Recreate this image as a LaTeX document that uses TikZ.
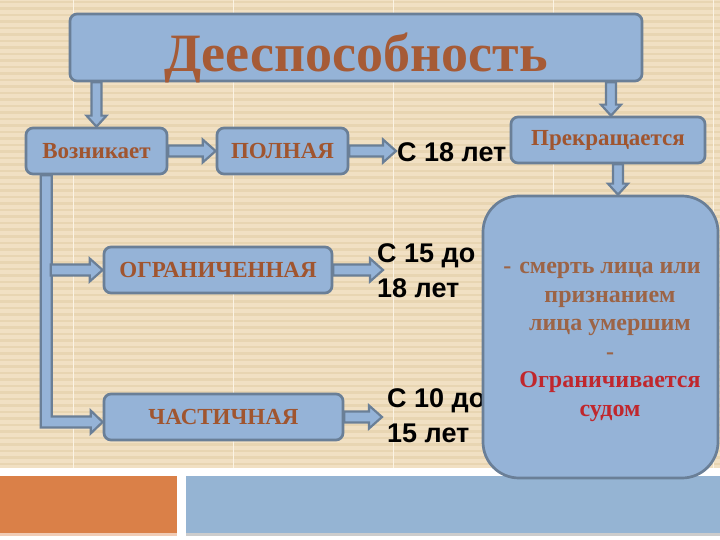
\documentclass[tikz,border=0pt]{standalone}
\usepackage{fontspec}
\setmainfont{Liberation Serif}
\newfontfamily\sansf{Liberation Sans}
\usetikzlibrary{calc}
\definecolor{bgbeige}{HTML}{F1E0C3}
\definecolor{stripe}{HTML}{E8D5B2}
\definecolor{vline}{HTML}{FBF3E4}
\definecolor{boxfill}{HTML}{95B3D7}
\definecolor{boxline}{HTML}{6A7F97}
\definecolor{txtbrown}{HTML}{A0552F}
\definecolor{titlebrown}{HTML}{A65B36}
\definecolor{txtbrowntwo}{HTML}{9C6446}
\definecolor{txtred}{HTML}{C0272D}
\definecolor{orangebar}{HTML}{DA8048}
\definecolor{bluebar}{HTML}{95B4D3}
\pgfdeclarelayer{bgl}
\pgfdeclarelayer{arrl}
\pgfsetlayers{bgl,arrl,main}
\tikzset{
  diabox/.style={draw=boxline, fill=boxfill, line width=2.7pt, rounded corners=7pt,
    font=\bfseries\fontsize{23}{27}\selectfont, text=txtbrown, inner sep=0pt},
  agetext/.style={font=\sansf\bfseries\fontsize{27}{35}\selectfont, text=black, align=left, inner sep=1pt},
  blk/.style={draw=boxline, fill=boxfill, line width=2.2pt, line join=miter},
  harr/.style={blk, to path={let \p1=(\tikztostart), \p2=(\tikztotarget) in
    (\x1,\y1+5.5pt) -- (\x2-13pt,\y1+5.5pt) -- (\x2-13pt,\y1+11.5pt) -- (\x2,\y1)
    -- (\x2-13pt,\y1-11.5pt) -- (\x2-13pt,\y1-5.5pt) -- (\x1,\y1-5.5pt) -- cycle}},
  varr/.style={blk, to path={let \p1=(\tikztostart), \p2=(\tikztotarget) in
    (\x1-5pt,\y1) -- (\x1-5pt,\y2+11pt) -- (\x1-10pt,\y2+11pt) -- (\x1,\y2)
    -- (\x1+10pt,\y2+11pt) -- (\x1+5pt,\y2+11pt) -- (\x1+5pt,\y1) -- cycle}}
}
\begin{document}
\begin{tikzpicture}[x=1pt,y=-1pt]
\useasboundingbox (0,0) rectangle (720,540);
\begin{pgfonlayer}{bgl}
\fill[white] (0,0) rectangle (720,540);
\fill[bgbeige] (0,0) rectangle (720,468);
\foreach \i in {0,...,71} \fill[stripe] (0,\i*6.5+1) rectangle (720,\i*6.5+3.5);
\foreach \x in {73,233,393,553,713} \draw[vline, line width=1pt] (\x,0) -- (\x,468);
\fill[orangebar] (0,476) rectangle (177,533);
\fill[bluebar] (186,476) rectangle (720,533);
\fill[black!20] (186,533) rectangle (720,535.5);
\fill[orangebar!40!white] (0,533) rectangle (177,535.5);
\end{pgfonlayer}

% boxes
\node[diabox, minimum width=572pt, minimum height=67pt] (title) at (356,47.5) {};
\node[font=\bfseries\fontsize{54}{60}\selectfont, text=titlebrown, anchor=base, inner sep=0pt] (titletxt) at (356,72) {Дееспособность};
\node[diabox, minimum width=141pt, minimum height=46pt] (voz) at (96.5,151) {Возникает};
\node[diabox, minimum width=131pt, minimum height=46pt] (pol) at (282.5,151) {ПОЛНАЯ};
\node[diabox, minimum width=194pt, minimum height=46pt] (prek) at (608,140) {Прекращается};
\node[diabox, minimum width=228pt, minimum height=46pt] (ogr) at (218,270) {ОГРАНИЧЕННАЯ};
\node[diabox, minimum width=239pt, minimum height=46pt] (chast) at (223.5,417) {ЧАСТИЧНАЯ};

% age texts
\node[agetext, anchor=west] (s18) at (396,152) {С 18 лет};
\node[agetext, anchor=west] (s15) at (376,271) {С 15 до\\18 лет};
\node[agetext, anchor=west] (s10) at (386,416) {С 10 до\\15 лет};

% end box
\node[diabox, rounded corners=36pt, minimum width=235pt, minimum height=282pt] (big) at (600.5,337) {};
\node[font=\bfseries\fontsize{24}{28.6}\selectfont, text=txtbrowntwo, align=center, inner sep=0pt] (bigtxt) at (610,342)
  {\llap{-\hspace{8pt}}смерть лица или\\признанием\\лица умершим\\-\\
   \textcolor{txtred}{Ограничивается}\\\textcolor{txtred}{судом}};

\coordinate (trunk) at ($(voz.south west)+(21.5,0)$);
\coordinate (pk) at ([xshift=10]prek.south);

\begin{pgfonlayer}{arrl}
\draw[varr] (voz.north |- title.south) to (voz.north);
\draw[varr] ([xshift=3]prek.north |- title.south) to ([xshift=3]prek.north);
\draw[varr] (pk) to (pk |- big.north);
\draw[harr] (voz.east) to (pol.west);
\draw[harr] (pol.east) to (s18.west);
\draw[blk] let \p1=(trunk), \p2=(chast.west) in
  (\x1-5.5pt,\y1) -- (\x1-5.5pt,\y2-10.5pt) -- (\x2-12pt,\y2-10.5pt) -- (\x2-12pt,\y2-16.5pt)
  -- (\x2,\y2-5pt) -- (\x2-12pt,\y2+6.5pt) -- (\x2-12pt,\y2+0.5pt) -- (\x1+5.5pt,\y2+0.5pt)
  -- (\x1+5.5pt,\y1) -- cycle;
\draw[harr] ([xshift=4.5]trunk |- ogr.west) to (ogr.west);
\draw[harr] (ogr.east) to ([xshift=7]s15.west);
\draw[harr] (chast.east) to ([xshift=-4]s10.west);
\end{pgfonlayer}
\end{tikzpicture}
\end{document}
